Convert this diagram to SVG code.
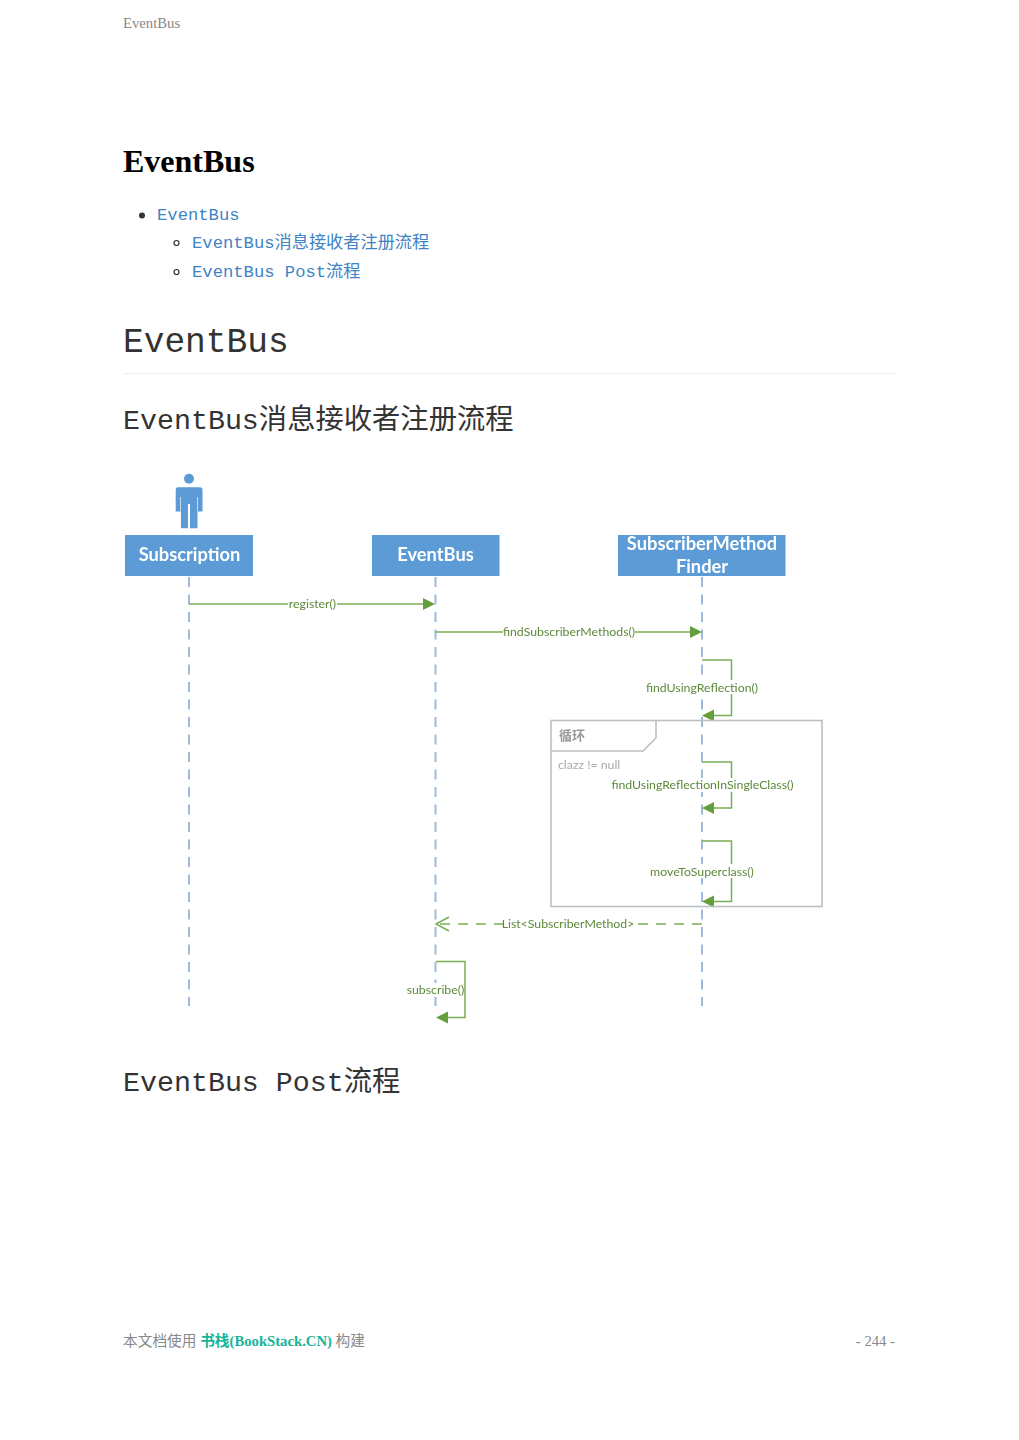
<svg xmlns="http://www.w3.org/2000/svg" width="1019" height="1440" viewBox="0 0 1019 1440">
<style>
text{white-space:pre}
.serif{font-family:"Liberation Serif","Noto Sans CJK SC",serif}
.mono{font-family:"Liberation Mono","Noto Sans CJK SC",monospace}
.h{fill:#333}
.link{fill:#4183c4;font-size:17.2px}
.box{fill:#5b9bd5}
.nt{font-family:Lato,"Noto Sans",sans-serif;font-weight:700;font-size:18.3px;fill:#fff;text-anchor:middle}
.life{fill:none;stroke:#9dbcdb;stroke-width:2;stroke-dasharray:10 7.500}
.msg{fill:none;stroke:#7aae55;stroke-width:1.5}
.ah{fill:#659f3c;stroke:none}
.lb{font-family:Lato,"Noto Sans",sans-serif;font-size:12.3px;fill:#5b8a38;text-anchor:middle}
.lbg{fill:#fff}
.frame{fill:none;stroke:#bcc0c2;stroke-width:1.6}
.ft{font-size:14.7px;fill:#888}
</style>
<defs><filter id="soft" x="-5%" y="-5%" width="110%" height="110%"><feGaussianBlur stdDeviation="0.5"/></filter></defs>
<rect width="1019" height="1440" fill="#fff"/>
<text class="serif" x="123" y="28" font-size="14.7" fill="#888">EventBus</text>
<text class="serif" x="123" y="172" font-size="32" font-weight="700" fill="#000">EventBus</text>
<circle cx="142" cy="215.500" r="3" fill="#333"/>
<text class="mono link" x="157" y="220">EventBus</text>
<circle cx="176.500" cy="243" r="2.500" fill="none" stroke="#333" stroke-width="1.200"/>
<text class="mono link" x="192" y="248">EventBus消息接收者注册流程</text>
<circle cx="176.500" cy="272" r="2.500" fill="none" stroke="#333" stroke-width="1.200"/>
<text class="mono link" x="192" y="277">EventBus Post流程</text>
<text class="mono h" x="123" y="352" font-size="34.5">EventBus</text>
<rect x="123" y="373" width="772" height="1" fill="#eee"/>
<text class="mono h" x="123" y="429" font-size="28.3">EventBus消息接收者注册流程</text>
<text class="mono h" x="123" y="1091" font-size="28.3">EventBus Post流程</text>
<g filter="url(#soft)">
<g id="actor"><circle cx="189" cy="478.800" r="5" fill="#5b9bd5"/><path d="M178 487.300H200Q202.500 487.300 202.500 490V511.500H197.500V528.300H190V504H188V528.300H181V511.500H175.700V490Q175.700 487.300 178 487.300Z" fill="#5b9bd5"/><path d="M180.500 497V511.500M197.500 497V511.500" stroke="#dbe8f5" stroke-width="0.800" fill="none"/></g>
<g id="connectors">
<path class="life" d="M189 577V1006"/>
<path class="life" d="M435.500 577V1006"/>
<path class="life" d="M702 577V1006"/>
<path class="msg" d="M189 604H423"/><path class="ah" d="M423 598L435 604L423 610Z"/>
<path class="msg" d="M436 632H690"/><path class="ah" d="M690 626L702 632L690 638Z"/>
<path class="msg" d="M702 660H731.500V715.500H714"/><path class="ah" d="M714 709.500L702 715.500L714 721.500Z"/>
<path class="msg" d="M702 762H731.500V808H714"/><path class="ah" d="M714 802L702 808L714 814Z"/>
<path class="msg" d="M702 841H731.500V901.500H714"/><path class="ah" d="M714 895.500L702 901.500L714 907.500Z"/>
<path class="msg" d="M702 924H436" stroke-dasharray="10 8"/><path class="msg" d="M449 917L436 924L449 931"/>
<path class="msg" d="M436 961.500H465V1017.500H448"/><path class="ah" d="M448 1011.500L436 1017.500L448 1023.500Z"/>
</g>
<g id="loop-frame"><rect class="frame" x="551" y="720.500" width="271" height="186"/><path class="frame" d="M551 751H643L656 738V720.500"/>
<text x="559" y="740" font-family="Noto Sans CJK SC,sans-serif" font-size="13" font-weight="700" fill="#999">循环</text>
<text x="558" y="769" font-family="Lato,sans-serif" font-size="12.300" fill="#aaa">clazz != null</text></g>
<g id="label-register"><rect class="lbg" x="288" y="597" width="49" height="14"/><text class="lb" x="312.500" y="608">register()</text></g>
<g id="label-find"><rect class="lbg" x="503" y="625" width="132" height="14"/><text class="lb" x="569" y="636">findSubscriberMethods()</text></g>
<g id="label-reflection"><rect class="lbg" x="645" y="680" width="113" height="14"/><text class="lb" x="702" y="692">findUsingReflection()</text></g>
<g id="label-single"><rect class="lbg" x="612" y="778" width="181" height="14"/><text class="lb" x="702.500" y="789">findUsingReflectionInSingleClass()</text></g>
<g id="label-super"><rect class="lbg" x="649" y="864" width="107" height="14"/><text class="lb" x="702" y="876">moveToSuperclass()</text></g>
<g id="label-list"><rect class="lbg" x="503" y="917" width="131" height="14"/><text class="lb" x="568" y="928">List&lt;SubscriberMethod&gt;</text></g>
<g id="label-subscribe"><rect class="lbg" x="406" y="983" width="58" height="14"/><text class="lb" x="435.500" y="994">subscribe()</text></g>
<g id="node-subscription"><rect class="box" x="125" y="535" width="128" height="41"/><text class="nt" x="189.500" y="561">Subscription</text></g>
<g id="node-eventbus"><rect class="box" x="372" y="535" width="127.500" height="41"/><text class="nt" x="435.500" y="561">EventBus</text></g>
<g id="node-finder"><rect class="box" x="618" y="535" width="167.500" height="41"/><text class="nt" x="702" y="550">SubscriberMethod</text><text class="nt" x="702" y="573">Finder</text></g>
</g>
<text x="123" y="1346" class="ft serif">本文档使用 <tspan fill="#16b597" font-weight="700">书栈(BookStack.CN)</tspan> 构建</text>
<text class="serif ft" x="895" y="1346" text-anchor="end">- 244 -</text>
</svg>
